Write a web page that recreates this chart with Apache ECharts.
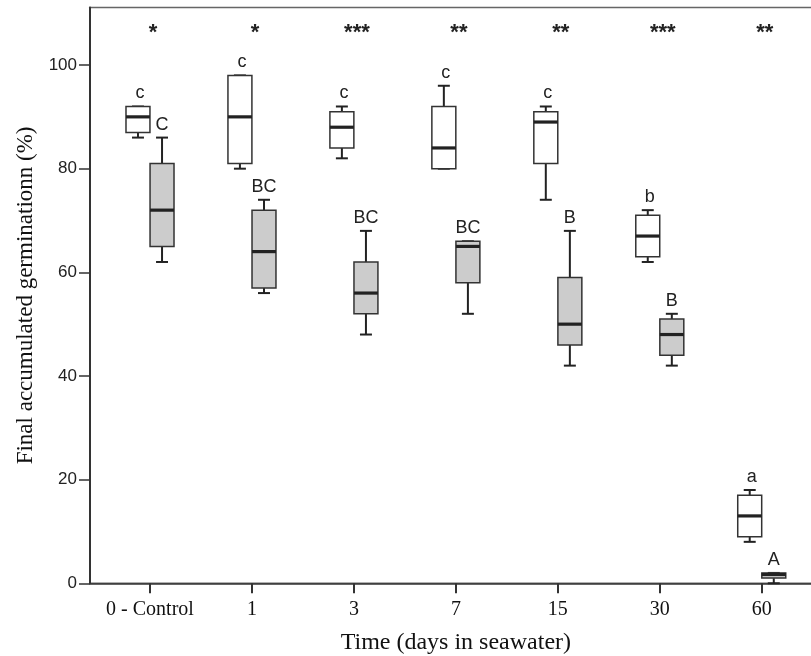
<!DOCTYPE html>
<html>
<head>
<meta charset="utf-8">
<script src="https://cdn.jsdelivr.net/npm/echarts@6/dist/echarts.min.js"></script>
<style>
  html, body { margin: 0; padding: 0; background: #fff; }
  #chart { width: 811px; height: 656px; }
</style>
</head>
<body>
<div id="chart"></div>
<script>
// time categories (days in seawater)
const timeLabels = ["0 - Control", "1", "3", "7", "15", "30", "60"];

// box stats: [min, Q1, median, Q3, max]
const whiteStats = [
  [86, 87, 90, 92, 92],
  [80, 81, 90, 98, 98],
  [82, 84, 88, 91, 92],
  [80, 80, 84, 92, 96],
  [74, 81, 89, 91, 92],
  [62, 63, 67, 71, 72],
  [8, 9, 13, 17, 18]
];
const grayStats = [
  [62, 65, 72, 81, 86],
  [56, 57, 64, 72, 74],
  [48, 52, 56, 62, 68],
  [52, 58, 65, 66, 66],
  [42, 46, 50, 59, 68],
  [42, 44, 48, 51, 52],
  [0, 1, 1.7, 2, 2]
];

// letters over the boxes and significance stars
const whiteLetters = ["c", "c", "c", "c", "c", "b", "a"];
const grayLetters = ["C", "BC", "BC", "BC", "B", "B", "A"];
const stars = ["*", "*", "***", "**", "**", "***", "**"];

const yTicks = [0, 20, 40, 60, 80, 100];
const xTicks = timeLabels.map((_, i) => i);

const boxW = 0.235;   // box width in axis units
const boxOff = 0.118; // offset of box centre from tick

const boxData = [];
whiteStats.forEach((s, i) => boxData.push([i, 0].concat(s)));
grayStats.forEach((s, i) => boxData.push([i, 1].concat(s)));

const renderBox = (params, api) => {
  const xi = api.value(0);
  const side = api.value(1);
  const cx = api.coord([xi + (side === 0 ? -boxOff : boxOff), 0])[0];
  const w = api.size([boxW, 0])[0];
  const y = k => api.coord([0, api.value(k)])[1];
  const yMin = y(2), yQ1 = y(3), yMed = y(4), yQ3 = y(5), yMax = y(6);
  const line = (x1, y1, x2, y2, lw) => ({
    type: "line",
    shape: { x1, y1, x2, y2 },
    style: { stroke: "#222", lineWidth: lw }
  });
  const letter = side === 0 ? whiteLetters[xi] : grayLetters[xi];
  return {
    type: "group",
    children: [
      line(cx, yQ3, cx, yMax, 2),
      line(cx, yQ1, cx, yMin, 2),
      line(cx - w / 4, yMax, cx + w / 4, yMax, 2),
      line(cx - w / 4, yMin, cx + w / 4, yMin, 2),
      {
        type: "rect",
        shape: { x: cx - w / 2, y: yQ3, width: w, height: yQ1 - yQ3 },
        style: { fill: side === 0 ? "#ffffff" : "#cccccc", stroke: "#333", lineWidth: 1.5 }
      },
      line(cx - w / 2, yMed, cx + w / 2, yMed, 3.2),
      {
        type: "text",
        x: cx + (side === 0 ? 2 : 0),
        y: yMax - 13,
        style: {
          text: letter,
          font: "18px 'Liberation Sans', Arial, sans-serif",
          fill: "#222",
          align: "center",
          verticalAlign: "middle"
        }
      }
    ]
  };
};

const renderStar = (params, api) => {
  const xi = api.value(0);
  const cx = api.coord([xi, 0])[0] + 3;
  return {
    type: "text",
    x: cx,
    y: 33,
    style: {
      text: stars[xi],
      font: "bold 22px 'Liberation Sans', Arial, sans-serif",
      fill: "#222",
      align: "center",
      verticalAlign: "middle"
    }
  };
};

const chart = echarts.init(document.getElementById("chart"));

chart.setOption({
  animation: false,
  grid: {
    left: 90,
    top: 7.5,
    width: 731.7,
    height: 575.8,
    outerBoundsMode: "none",
    containLabel: false,
    show: true,
    borderColor: "#666",
    borderWidth: 1.5,
    backgroundColor: "transparent"
  },
  xAxis: {
    type: "value",
    min: -0.5885,
    max: 6.588,
    name: "Time (days in seawater)",
    nameLocation: "middle",
    nameGap: 47,
    nameTextStyle: { fontFamily: "'Liberation Serif', 'Times New Roman', serif", fontSize: 24, color: "#111" },
    axisLine: { show: true, onZero: false, lineStyle: { color: "#333", width: 1.5 } },
    axisTick: { show: true, length: 10, customValues: xTicks, lineStyle: { color: "#333", width: 2 } },
    axisLabel: {
      customValues: xTicks,
      formatter: v => timeLabels[Math.round(v)],
      fontFamily: "'Liberation Serif', 'Times New Roman', serif",
      fontSize: 20,
      color: "#111",
      margin: 16
    },
    splitLine: { show: false }
  },
  yAxis: {
    type: "value",
    min: 0,
    max: 111.1,
    name: "Final accumulated germinationn (%)",
    nameLocation: "middle",
    nameGap: 52,
    nameTextStyle: { fontFamily: "'Liberation Serif', 'Times New Roman', serif", fontSize: 23, color: "#111" },
    axisLine: { show: true, onZero: false, lineStyle: { color: "#333", width: 2 } },
    axisTick: { show: true, length: 11, customValues: yTicks, lineStyle: { color: "#333", width: 1.5 } },
    axisLabel: {
      customValues: yTicks,
      fontFamily: "'Liberation Sans', Arial, sans-serif",
      fontSize: 17,
      color: "#222",
      margin: 13
    },
    splitLine: { show: false }
  },
  series: [
    {
      type: "custom",
      name: "boxes",
      renderItem: renderBox,
      data: boxData,
      encode: { x: 0, y: [2, 6] },
      clip: false
    },
    {
      type: "custom",
      name: "stars",
      renderItem: renderStar,
      data: xTicks.map(i => [i, 0]),
      clip: false
    }
  ]
});

window.addEventListener("resize", () => {
  chart.resize();
});
</script>
</body>
</html>
